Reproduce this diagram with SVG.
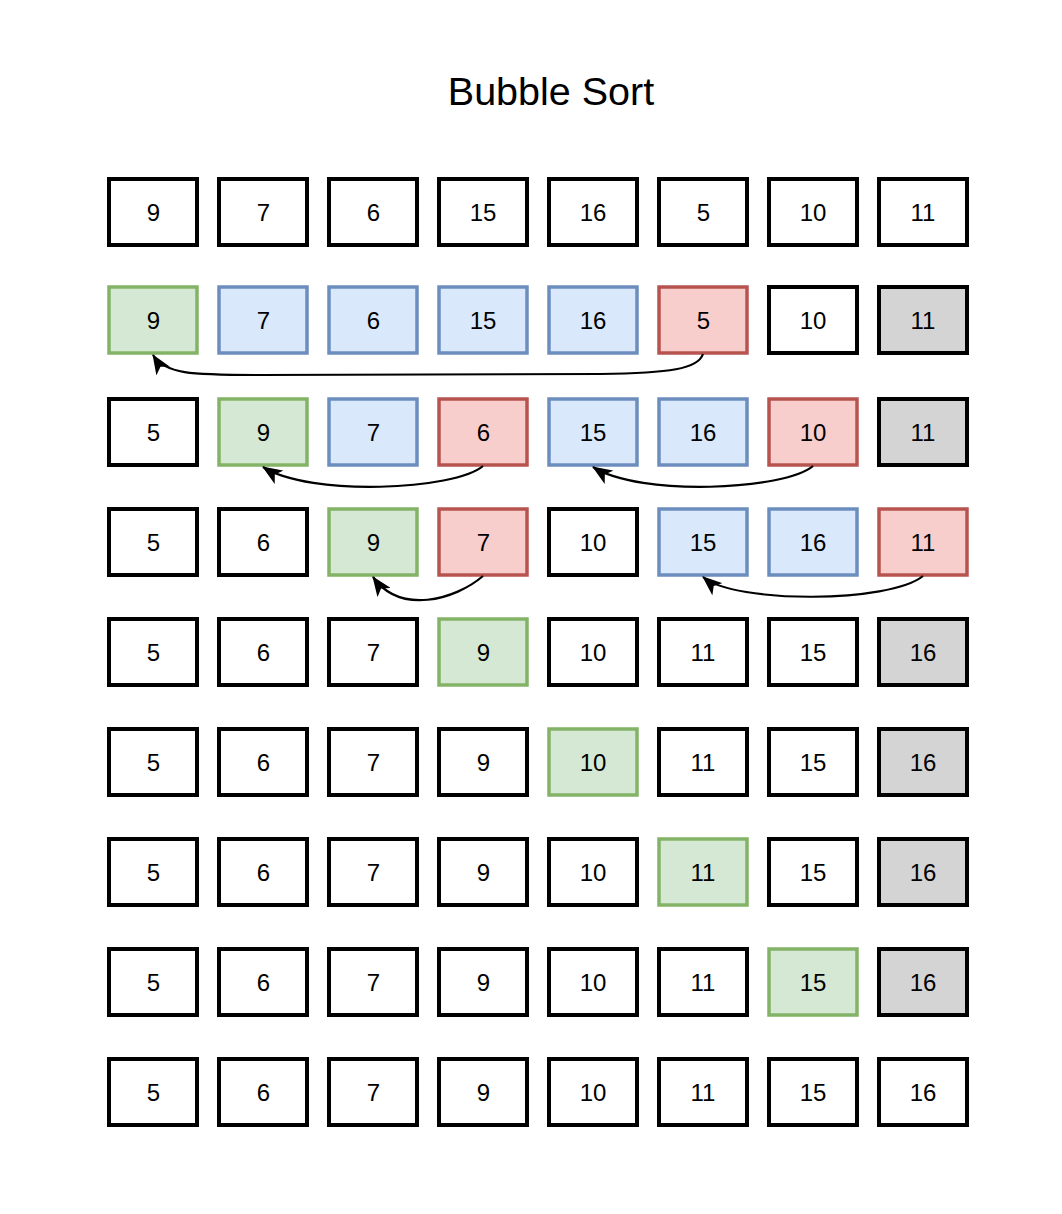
<svg xmlns="http://www.w3.org/2000/svg" width="1062" height="1214" viewBox="0 0 1062 1214">
<style>
.b{fill:#fff;stroke:#000;stroke-width:4}
.g{fill:#d5e8d4;stroke:#82b366;stroke-width:3.5}
.u{fill:#dae8fc;stroke:#6c8ebf;stroke-width:3.5}
.r{fill:#f8cecc;stroke:#b85450;stroke-width:3.5}
.k{fill:#d4d4d4;stroke:#000;stroke-width:4}
text{font-family:"Liberation Sans",Arial,sans-serif;font-size:24px;text-anchor:middle;fill:#000}
.t{font-size:39.5px}
.e{fill:none;stroke:#000;stroke-width:2.2}
</style>
<defs>
<marker id="a" markerUnits="userSpaceOnUse" viewBox="0 0 20 16" refX="19" refY="8" markerWidth="20" markerHeight="16" orient="auto">
<path d="M0,0 L20,8 L0,16 L5,8 Z" fill="#000"/>
</marker>
</defs>
<rect width="1062" height="1214" fill="#fff"/>
<text class="t" x="551" y="105">Bubble Sort</text>

<g id="row1">
<g id="r1c1"><rect class="b" x="109" y="179" width="88" height="66"/><text x="153.5" y="220.6">9</text></g>
<g id="r1c2"><rect class="b" x="219" y="179" width="88" height="66"/><text x="263.5" y="220.6">7</text></g>
<g id="r1c3"><rect class="b" x="329" y="179" width="88" height="66"/><text x="373.5" y="220.6">6</text></g>
<g id="r1c4"><rect class="b" x="439" y="179" width="88" height="66"/><text x="483" y="220.6">15</text></g>
<g id="r1c5"><rect class="b" x="549" y="179" width="88" height="66"/><text x="593" y="220.6">16</text></g>
<g id="r1c6"><rect class="b" x="659" y="179" width="88" height="66"/><text x="703.5" y="220.6">5</text></g>
<g id="r1c7"><rect class="b" x="769" y="179" width="88" height="66"/><text x="813" y="220.6">10</text></g>
<g id="r1c8"><rect class="b" x="879" y="179" width="88" height="66"/><text x="923" y="220.6">11</text></g>
</g>

<g id="row2">
<g id="r2c1"><rect class="g" x="109" y="287" width="88" height="66"/><text x="153.5" y="328.6">9</text></g>
<g id="r2c2"><rect class="u" x="219" y="287" width="88" height="66"/><text x="263.5" y="328.6">7</text></g>
<g id="r2c3"><rect class="u" x="329" y="287" width="88" height="66"/><text x="373.5" y="328.6">6</text></g>
<g id="r2c4"><rect class="u" x="439" y="287" width="88" height="66"/><text x="483" y="328.6">15</text></g>
<g id="r2c5"><rect class="u" x="549" y="287" width="88" height="66"/><text x="593" y="328.6">16</text></g>
<g id="r2c6"><rect class="r" x="659" y="287" width="88" height="66"/><text x="703.5" y="328.6">5</text></g>
<g id="r2c7"><rect class="b" x="769" y="287" width="88" height="66"/><text x="813" y="328.6">10</text></g>
<g id="r2c8"><rect class="k" x="879" y="287" width="88" height="66"/><text x="923" y="328.6">11</text></g>
</g>

<g id="row3">
<g id="r3c1"><rect class="b" x="109" y="399" width="88" height="66"/><text x="153.5" y="440.6">5</text></g>
<g id="r3c2"><rect class="g" x="219" y="399" width="88" height="66"/><text x="263.5" y="440.6">9</text></g>
<g id="r3c3"><rect class="u" x="329" y="399" width="88" height="66"/><text x="373.5" y="440.6">7</text></g>
<g id="r3c4"><rect class="r" x="439" y="399" width="88" height="66"/><text x="483.5" y="440.6">6</text></g>
<g id="r3c5"><rect class="u" x="549" y="399" width="88" height="66"/><text x="593" y="440.6">15</text></g>
<g id="r3c6"><rect class="u" x="659" y="399" width="88" height="66"/><text x="703" y="440.6">16</text></g>
<g id="r3c7"><rect class="r" x="769" y="399" width="88" height="66"/><text x="813" y="440.6">10</text></g>
<g id="r3c8"><rect class="k" x="879" y="399" width="88" height="66"/><text x="923" y="440.6">11</text></g>
</g>

<g id="row4">
<g id="r4c1"><rect class="b" x="109" y="509" width="88" height="66"/><text x="153.5" y="550.6">5</text></g>
<g id="r4c2"><rect class="b" x="219" y="509" width="88" height="66"/><text x="263.5" y="550.6">6</text></g>
<g id="r4c3"><rect class="g" x="329" y="509" width="88" height="66"/><text x="373.5" y="550.6">9</text></g>
<g id="r4c4"><rect class="r" x="439" y="509" width="88" height="66"/><text x="483.5" y="550.6">7</text></g>
<g id="r4c5"><rect class="b" x="549" y="509" width="88" height="66"/><text x="593" y="550.6">10</text></g>
<g id="r4c6"><rect class="u" x="659" y="509" width="88" height="66"/><text x="703" y="550.6">15</text></g>
<g id="r4c7"><rect class="u" x="769" y="509" width="88" height="66"/><text x="813" y="550.6">16</text></g>
<g id="r4c8"><rect class="r" x="879" y="509" width="88" height="66"/><text x="923" y="550.6">11</text></g>
</g>

<g id="row5">
<g id="r5c1"><rect class="b" x="109" y="619" width="88" height="66"/><text x="153.5" y="660.6">5</text></g>
<g id="r5c2"><rect class="b" x="219" y="619" width="88" height="66"/><text x="263.5" y="660.6">6</text></g>
<g id="r5c3"><rect class="b" x="329" y="619" width="88" height="66"/><text x="373.5" y="660.6">7</text></g>
<g id="r5c4"><rect class="g" x="439" y="619" width="88" height="66"/><text x="483.5" y="660.6">9</text></g>
<g id="r5c5"><rect class="b" x="549" y="619" width="88" height="66"/><text x="593" y="660.6">10</text></g>
<g id="r5c6"><rect class="b" x="659" y="619" width="88" height="66"/><text x="703" y="660.6">11</text></g>
<g id="r5c7"><rect class="b" x="769" y="619" width="88" height="66"/><text x="813" y="660.6">15</text></g>
<g id="r5c8"><rect class="k" x="879" y="619" width="88" height="66"/><text x="923" y="660.6">16</text></g>
</g>

<g id="row6">
<g id="r6c1"><rect class="b" x="109" y="729" width="88" height="66"/><text x="153.5" y="770.6">5</text></g>
<g id="r6c2"><rect class="b" x="219" y="729" width="88" height="66"/><text x="263.5" y="770.6">6</text></g>
<g id="r6c3"><rect class="b" x="329" y="729" width="88" height="66"/><text x="373.5" y="770.6">7</text></g>
<g id="r6c4"><rect class="b" x="439" y="729" width="88" height="66"/><text x="483.5" y="770.6">9</text></g>
<g id="r6c5"><rect class="g" x="549" y="729" width="88" height="66"/><text x="593" y="770.6">10</text></g>
<g id="r6c6"><rect class="b" x="659" y="729" width="88" height="66"/><text x="703" y="770.6">11</text></g>
<g id="r6c7"><rect class="b" x="769" y="729" width="88" height="66"/><text x="813" y="770.6">15</text></g>
<g id="r6c8"><rect class="k" x="879" y="729" width="88" height="66"/><text x="923" y="770.6">16</text></g>
</g>

<g id="row7">
<g id="r7c1"><rect class="b" x="109" y="839" width="88" height="66"/><text x="153.5" y="880.6">5</text></g>
<g id="r7c2"><rect class="b" x="219" y="839" width="88" height="66"/><text x="263.5" y="880.6">6</text></g>
<g id="r7c3"><rect class="b" x="329" y="839" width="88" height="66"/><text x="373.5" y="880.6">7</text></g>
<g id="r7c4"><rect class="b" x="439" y="839" width="88" height="66"/><text x="483.5" y="880.6">9</text></g>
<g id="r7c5"><rect class="b" x="549" y="839" width="88" height="66"/><text x="593" y="880.6">10</text></g>
<g id="r7c6"><rect class="g" x="659" y="839" width="88" height="66"/><text x="703" y="880.6">11</text></g>
<g id="r7c7"><rect class="b" x="769" y="839" width="88" height="66"/><text x="813" y="880.6">15</text></g>
<g id="r7c8"><rect class="k" x="879" y="839" width="88" height="66"/><text x="923" y="880.6">16</text></g>
</g>

<g id="row8">
<g id="r8c1"><rect class="b" x="109" y="949" width="88" height="66"/><text x="153.5" y="990.6">5</text></g>
<g id="r8c2"><rect class="b" x="219" y="949" width="88" height="66"/><text x="263.5" y="990.6">6</text></g>
<g id="r8c3"><rect class="b" x="329" y="949" width="88" height="66"/><text x="373.5" y="990.6">7</text></g>
<g id="r8c4"><rect class="b" x="439" y="949" width="88" height="66"/><text x="483.5" y="990.6">9</text></g>
<g id="r8c5"><rect class="b" x="549" y="949" width="88" height="66"/><text x="593" y="990.6">10</text></g>
<g id="r8c6"><rect class="b" x="659" y="949" width="88" height="66"/><text x="703" y="990.6">11</text></g>
<g id="r8c7"><rect class="g" x="769" y="949" width="88" height="66"/><text x="813" y="990.6">15</text></g>
<g id="r8c8"><rect class="k" x="879" y="949" width="88" height="66"/><text x="923" y="990.6">16</text></g>
</g>

<g id="row9">
<g id="r9c1"><rect class="b" x="109" y="1059" width="88" height="66"/><text x="153.5" y="1100.6">5</text></g>
<g id="r9c2"><rect class="b" x="219" y="1059" width="88" height="66"/><text x="263.5" y="1100.6">6</text></g>
<g id="r9c3"><rect class="b" x="329" y="1059" width="88" height="66"/><text x="373.5" y="1100.6">7</text></g>
<g id="r9c4"><rect class="b" x="439" y="1059" width="88" height="66"/><text x="483.5" y="1100.6">9</text></g>
<g id="r9c5"><rect class="b" x="549" y="1059" width="88" height="66"/><text x="593" y="1100.6">10</text></g>
<g id="r9c6"><rect class="b" x="659" y="1059" width="88" height="66"/><text x="703" y="1100.6">11</text></g>
<g id="r9c7"><rect class="b" x="769" y="1059" width="88" height="66"/><text x="813" y="1100.6">15</text></g>
<g id="r9c8"><rect class="b" x="879" y="1059" width="88" height="66"/><text x="923" y="1100.6">16</text></g>
</g>

<g id="connectors">
<path class="e" marker-end="url(#a)" d="M703,354 C698,369 670,373 600,374 L260,375 C190,375 165,374 153,355"/>
<path class="e" marker-end="url(#a)" d="M483,466 C455,490 310,497 263,467"/>
<path class="e" marker-end="url(#a)" d="M813,466 C785,490 640,497 593,467"/>
<path class="e" marker-end="url(#a)" d="M483,576 C455,600 400,615 373,577"/>
<path class="e" marker-end="url(#a)" d="M923,576 C890,603 735,604 703,577"/>
</g>
</svg>
